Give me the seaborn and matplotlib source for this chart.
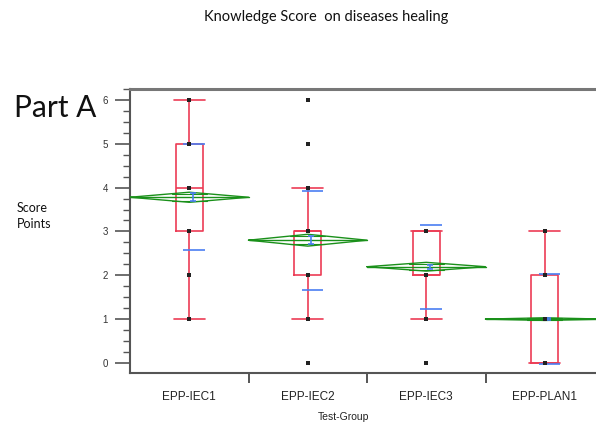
import matplotlib
matplotlib.use("Agg")
import matplotlib.pyplot as plt
from matplotlib.ticker import MultipleLocator, FixedLocator
import numpy as np
import pandas as pd
import seaborn as sns

# Groups and summary statistics of the knowledge score
groups = ["EPP-IEC1", "EPP-IEC2", "EPP-IEC3", "EPP-PLAN1"]
score_values = [
    [1, 2, 3, 4, 5, 6],
    [0, 1, 2, 3, 4, 5, 6],
    [0, 1, 2, 3],
    [0, 1, 2, 3],
]
q1 = [3, 2, 2, 0]
median = [4, 3, 2, 1]
q3 = [5, 3, 3, 2]
whisker_lo = [1, 1, 1, 0]
whisker_hi = [6, 4, 3, 3]
means = [3.78, 2.80, 2.195, 1.00]
ci95 = [0.115, 0.135, 0.10, 0.03]
std_dev = [1.21, 1.125, 0.955, 1.02]
std_err = [0.09, 0.085, 0.05, 0.02]
y_ticks = [0, 1, 2, 3, 4, 5, 6]

RED = "#ec3c55"
GREEN = "#1a901a"
BLUE = "#4a7ef2"
AXIS = "#555555"

sns.set_style("white")
plt.rcParams["font.family"] = ["Liberation Sans", "DejaVu Sans"]

fig = plt.figure(figsize=(5.96, 4.24), dpi=100)
W, H = 596, 424
ax = fig.add_axes([130 / W, 1 - 373 / H, 474 / W, (373 - 89) / H])

# individual score points
df = pd.DataFrame(
    [(g, v) for g, vals in zip(groups, score_values) for v in vals],
    columns=["group", "score"],
)
sns.stripplot(data=df, x="group", y="score", order=groups, jitter=False,
              marker="s", size=2.4, color="#222222", linewidth=0, ax=ax, zorder=6)

pos = np.arange(len(groups))

# quantile boxes
stats = [dict(med=m, q1=a, q3=b, whislo=lo, whishi=hi, fliers=[])
         for m, a, b, lo, hi in zip(median, q1, q3, whisker_lo, whisker_hi)]
ax.bxp(stats, positions=pos, widths=0.224, capwidths=0.26, showfliers=False,
       manage_ticks=False,
       boxprops=dict(color=RED, linewidth=1.2),
       whiskerprops=dict(color=RED, linewidth=1.2),
       capprops=dict(color=RED, linewidth=1.2),
       medianprops=dict(color=RED, linewidth=1.2), zorder=3)

# means diamonds with overlap marks
for p, m, c in zip(pos, means, ci95):
    xs = [p - 0.5, p, p + 0.5, p, p - 0.5]
    ys = [m, m + c, m, m - c, m]
    ax.plot(xs, ys, color=GREEN, linewidth=1.0, zorder=4)
    ax.plot([p - 0.5, p + 0.5], [m, m], color=GREEN, linewidth=1.0, zorder=4)
    off = c / np.sqrt(2)
    half = 0.5 * (1 - 1 / np.sqrt(2))
    ax.plot([p - half, p + half], [m + off, m + off], color=GREEN, linewidth=0.8, zorder=4)
    ax.plot([p - half, p + half], [m - off, m - off], color=GREEN, linewidth=0.8, zorder=4)

# standard deviation lines and standard error bars
for p, m, s, e in zip(pos, means, std_dev, std_err):
    ax.hlines([m - s, m + s], p - 0.05, p + 0.13, color=BLUE, linewidth=1.2, zorder=5)
    ax.errorbar(p + 0.03, m, yerr=e, color=BLUE, capsize=2.5, elinewidth=1.2,
                capthick=1.2, zorder=5)

ax.set_xlim(-0.5, 3.5)
ax.set_ylim(-0.23, 6.25)

ax.yaxis.set_major_locator(FixedLocator(y_ticks))
ax.yaxis.set_minor_locator(MultipleLocator(0.25))
ax.set_yticklabels([str(t) for t in y_ticks])
ax.tick_params(axis="y", which="major", direction="out", length=11, width=1.2,
               color=AXIS, labelsize=7, labelcolor="#333333", pad=5, left=True)
ax.tick_params(axis="y", which="minor", direction="out", length=5, width=1.0,
               color=AXIS, left=True)

ax.set_xticks(pos)
ax.set_xticklabels(groups)
ax.xaxis.set_minor_locator(FixedLocator([0.5, 1.5, 2.5]))
ax.tick_params(axis="x", which="major", length=0, labelsize=8.5,
               labelcolor="#222222", pad=13)
ax.tick_params(axis="x", which="minor", direction="out", length=7, width=1.4,
               color=AXIS, bottom=True)

ax.set_xlabel("Test-Group", fontsize=7.5, color="#222222")
ax.xaxis.set_label_coords((344 - 130) / 474, -(412 - 373) / 284, transform=ax.transAxes)
ax.set_ylabel("")

for side in ["left", "bottom"]:
    ax.spines[side].set_color(AXIS)
    ax.spines[side].set_linewidth(1.5)
ax.spines["top"].set_color("#777777")
ax.spines["top"].set_linewidth(2.2)
ax.spines["right"].set_visible(False)

fig.text(326 / W, 1 - 17 / H, "Knowledge Score  on diseases healing",
         ha="center", va="center", fontsize=10.5, family=["Lato", "DejaVu Sans"],
         color="#111111")
fig.text(14 / W, 1 - 117 / H, "Part A", ha="left", va="baseline",
         fontsize=21.5, family=["Lato", "DejaVu Sans"], color="#111111")
fig.text(17 / W, 1 - 216 / H, "Score\nPoints", ha="left", va="center",
         fontsize=9, family=["Lato", "DejaVu Sans"], color="#111111",
         linespacing=1.5)

fig.savefig("out.png", dpi=100)
